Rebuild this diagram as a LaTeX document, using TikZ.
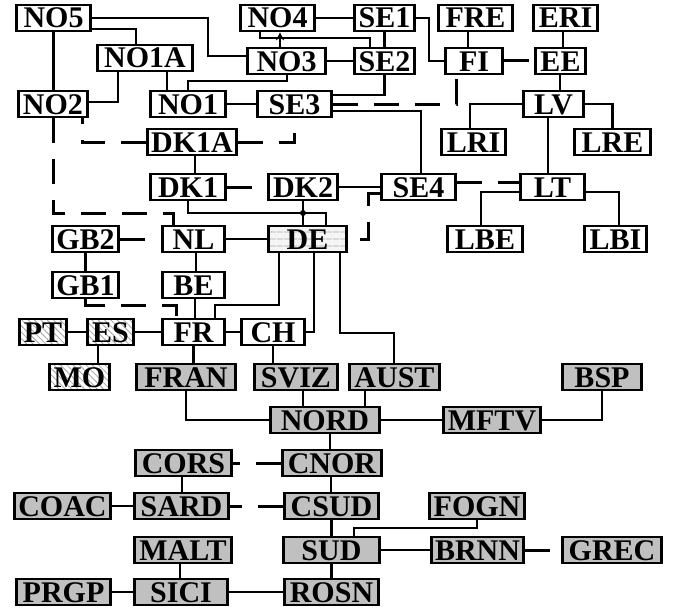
\documentclass[tikz,border=0pt]{standalone}
\usepackage{fontspec}
\setmainfont{Liberation Serif}
\usepackage{tikz}
\usetikzlibrary{arrows.meta,patterns.meta}
\definecolor{boxgray}{RGB}{192,192,192}
\newcommand{\boxfont}{\bfseries\fontsize{30}{30}\selectfont}

\begin{document}
\begin{tikzpicture}[x=1pt,y=-1pt,line width=2.6pt,
    box/.style={draw, line width=2.6pt, fill=white, minimum height=26pt, inner sep=0pt,
      text height=20pt, text depth=0pt, font=\boxfont},
    gbox/.style={box, fill=boxgray},
    hbox/.style={box, preaction={fill=white},
      pattern={Lines[angle=-45,distance=4.5pt,line width=0.8pt]}, pattern color=gray!70},
    debox/.style={box, preaction={fill=gray!8},
      pattern={Lines[angle=0,distance=6.5pt,line width=0.7pt]}, pattern color=gray!70},
    dashline/.style={dash pattern=on 25pt off 16pt, line width=3pt}]
    \useasboundingbox (0,0) rectangle (683,610);

    % north
    \node[box, minimum width=74pt] (NO5) at (53.5,18) {NO5};
    \node[box, minimum width=74pt] (NO4) at (277.5,18) {NO4};
    \node[box, minimum width=60pt] (SE1) at (384.5,18) {SE1};
    \node[box, minimum width=74pt] (FRE) at (475.5,18) {FRE};
    \node[box, minimum width=64pt] (ERI) at (565.5,18) {ERI};
    \node[box, minimum width=95pt] (NO1A) at (145,58) {NO1A};
    \node[box, minimum width=78pt] (NO3) at (286.5,61) {NO3};
    \node[box, minimum width=60pt] (SE2) at (384.5,61) {SE2};
    \node[box, minimum width=57pt] (FI) at (474,61) {FI};
    \node[box, minimum width=50pt] (EE) at (560.5,61) {EE};
    \node[box, minimum width=69pt] (NO2) at (53,104) {NO2};
    \node[box, minimum width=75pt] (NO1) at (188,104) {NO1};
    \node[box, minimum width=74pt] (SE3) at (294.5,104) {SE3};
    \node[box, minimum width=60pt] (LV) at (553.5,104) {LV};
    \node[box, minimum width=89pt] (DK1A) at (192,142) {DK1A};
    \node[box, minimum width=64pt] (LRI) at (473.5,142) {LRI};
    \node[box, minimum width=76pt] (LRE) at (612.5,142) {LRE};
    \node[box, minimum width=75pt] (DK1) at (188,187) {DK1};
    \node[box, minimum width=69pt] (DK2) at (303,187) {DK2};
    \node[box, minimum width=74pt] (SE4) at (418.5,187) {SE4};
    \node[box, minimum width=64pt] (LT) at (552.5,187) {LT};

    % centre
    \node[box, minimum width=66pt] (GB2) at (85.5,239) {GB2};
    \node[box, minimum width=62pt] (NL) at (193.5,239) {NL};
    \node[debox, minimum width=78pt] (DE) at (307.5,239) {DE};
    \node[box, minimum width=75pt] (LBE) at (485,239) {LBE};
    \node[box, minimum width=62pt] (LBI) at (615.5,239) {LBI};
    \node[box, minimum width=66pt] (GB1) at (85.5,285) {GB1};
    \node[box, minimum width=62pt] (BE) at (193.5,285) {BE};
    \node[hbox, minimum width=47pt] (PT) at (43,332) {PT};
    \node[hbox, minimum width=46pt] (ES) at (110.5,332) {ES};
    \node[box, minimum width=62pt] (FR) at (193.5,332) {FR};
    \node[box, minimum width=63pt] (CH) at (273,332) {CH};
    \node[hbox, minimum width=60pt] (MO) at (79.5,377) {MO};

    % italy
    \node[gbox, minimum width=99pt] (FRAN) at (186,377) {FRAN};
    \node[gbox, minimum width=83pt] (SVIZ) at (296,377) {SVIZ};
    \node[gbox, minimum width=90pt] (AUST) at (394.5,377) {AUST};
    \node[gbox, minimum width=79pt] (BSP) at (602,377) {BSP};
    \node[gbox, minimum width=109pt] (NORD) at (325,420) {NORD};
    \node[gbox, minimum width=97pt] (MFTV) at (492,420) {MFTV};
    \node[gbox, minimum width=96pt] (CORS) at (183.5,463) {CORS};
    \node[gbox, minimum width=99pt] (CNOR) at (332,463) {CNOR};
    \node[gbox, minimum width=96pt] (COAC) at (62.5,506) {COAC};
    \node[gbox, minimum width=94pt] (SARD) at (181.5,506) {SARD};
    \node[gbox, minimum width=94pt] (CSUD) at (331.5,506) {CSUD};
    \node[gbox, minimum width=95pt] (FOGN) at (477,506) {FOGN};
    \node[gbox, minimum width=97pt] (MALT) at (183,550) {MALT};
    \node[gbox, minimum width=96pt] (SUD) at (331.5,550) {SUD};
    \node[gbox, minimum width=92pt] (BRNN) at (477.5,550) {BRNN};
    \node[gbox, minimum width=99pt] (GREC) at (612,550) {GREC};
    \node[gbox, minimum width=94pt] (PRGP) at (63.5,592) {PRGP};
    \node[gbox, minimum width=93pt] (SICI) at (181,592) {SICI};
    \node[gbox, minimum width=94pt] (ROSN) at (331.5,592) {ROSN};

    % links north
    \draw (NO5.south) -- (NO5.south |- NO2.north);
    \draw (NO5.east) -| (208,56) -- (NO3.west |- 0,56);
    \draw (NO5.east |- 0,29) -| (NO1A.north -| 136,0);
    \draw (NO1A.south -| 118,0) |- (NO2.east |- 0,102);
    \draw (NO1A.south -| 167,0) -- (NO1.north -| 167,0);
    \draw (NO1.north) |- (287,81) -- (NO3.south -| 287,0);
    \draw (NO1) -- (SE3);
    \draw[-{Stealth[length=8pt,width=8pt]}] (NO3.north -| 280,0) -- (NO4.south -| 280,0);
    \draw (NO4.south -| 260,0) |- (370,38) -- (SE2.north -| 370,0);
    \draw (NO4) -- (SE1);
    \draw (NO3) -- (SE2);
    \draw (SE1) -- (SE2);
    \draw (SE1.east) -| (429,61) -- (FI.west);
    \draw (FRE.south -| 468,0) -- (FI.north -| 468,0);
    \draw[dashline] (FI) -- (EE);
    \draw (ERI.south -| 563,0) -- (EE.north -| 563,0);
    \draw (EE.south -| 560,0) -- (LV.north -| 560,0);
    \draw (LV.west) -| (LRI.north -| 470,0);
    \draw (LV.east) -| (LRE.north);
    \draw (LV.south -| 548,0) -- (LT.north -| 548,0);
    \draw (SE3.east |- 0,95) -| (SE2.south);
    \draw[dashline] (SE3.east) -| (FI.south -| 456,0);
    \draw (SE3.east |- 0,111) -| (SE4.north -| 421,0);
    \draw[dashline] (DK1A.east) -| (SE3.south);
    \draw[dashline] (DK1A.west) -| (NO2.south -| 82,0);
    \draw[dashline] (NO2.south) |- (173,213) -- (NL.north -| 173,0);
    \draw (DK1A.south -| 195,0) -- (DK1.north -| 195,0);
    \draw (DK1.south) |- (326,213) -- (DE.north -| 326,0);
    \draw (DK2.south) -- (DK2.south |- DE.north);
    \fill (303,213) circle (3pt);
    \draw[dashline] (DK1) -- (DK2);
    \draw (DK2) -- (SE4);
    \draw[dashline] (SE4.west |- 0,193) -| (368,239) -- (DE.east);
    \draw[dashline] (SE4.east |- 0,182) -- (LT.west |- 0,182);
    \draw (LT.west |- 0,192) -| (LBE.north -| 481,0);
    \draw (LT.east |- 0,192) -| (LBI.north -| 619,0);

    % links centre
    \draw[dashline] (GB2) -- (NL);
    \draw (GB2.south) -- (GB1.north);
    \draw (NL) -- (DE);
    \draw (NL.south -| 196,0) -- (BE.north -| 196,0);
    \draw[dashline] (GB1.south) |- (176,305) -- (FR.north -| 176,0);
    \draw (BE.south -| 195,0) -- (FR.north -| 195,0);
    \draw (DE.south -| 279,0) |- (215,305) -- (FR.north -| 215,0);
    \draw (DE.south -| 314,0) |- (CH.east);
    \draw (DE.south -| 340,0) |- (394,333) -- (AUST.north -| 394,0);
    \draw (PT) -- (ES) -- (FR) -- (CH);
    \draw (ES.south -| 98,0) -- (MO.north -| 98,0);
    \draw (FR.south) -- (FR.south |- FRAN.north);
    \draw (CH.south) -- (CH.south |- SVIZ.north);

    % links italy
    \draw (FRAN.south) |- (NORD.west);
    \draw (SVIZ.south -| 303,0) -- (NORD.north -| 303,0);
    \draw (AUST.south -| 365,0) -- (NORD.north -| 365,0);
    \draw (NORD) -- (MFTV);
    \draw (MFTV.east) -| (BSP.south);
    \draw (NORD.south -| 330,0) -- (CNOR.north -| 330,0);
    \draw[dashline] (CNOR) -- (CORS);
    \draw (CORS.south -| 182,0) -- (SARD.north -| 182,0);
    \draw (CNOR.south -| 331,0) -- (CSUD.north -| 331,0);
    \draw (COAC) -- (SARD);
    \draw[dashline] (CSUD) -- (SARD);
    \draw (FOGN.south) |- (354,528) -- (SUD.north -| 354,0);
    \draw (CSUD) -- (SUD);
    \draw (SUD) -- (BRNN);
    \draw[dashline] (BRNN) -- (GREC);
    \draw (MALT.south -| 180,0) -- (SICI.north -| 180,0);
    \draw (SUD) -- (ROSN);
    \draw (PRGP) -- (SICI) -- (ROSN);
  \end{tikzpicture}
\end{document}
